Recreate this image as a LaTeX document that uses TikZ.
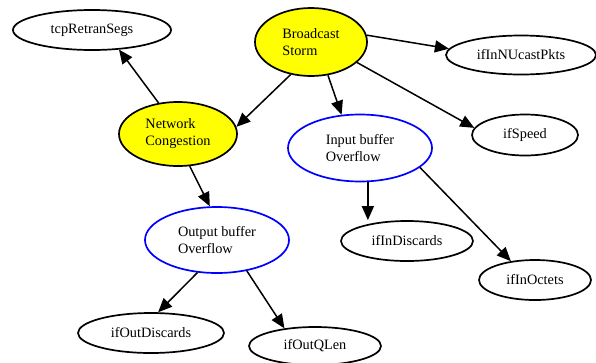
\documentclass[tikz,border=0pt]{standalone}
\usepackage{fontspec}
\setmainfont{Liberation Serif}
\usepackage{xcolor}
\usepackage{tikz}
\usetikzlibrary{shapes.geometric,arrows.meta}
\definecolor{CauseYellow}{RGB}{255,255,0}
\definecolor{BufferBlue}{RGB}{0,0,255}
\tikzset{
    varnode/.style={ellipse, draw=black, line width=1.7pt, inner sep=0pt, align=left,
        font=\fontsize{14.3}{17}\selectfont},
    causenode/.style={varnode, fill=CauseYellow},
    bufnode/.style={varnode, draw=BufferBlue},
    causeline/.style={draw=black, line width=1.5pt, -{Triangle[length=14pt, width=12pt]}}
}

\begin{document}
\begin{tikzpicture}[x=1pt, y=-1pt]
    \useasboundingbox (0,0) rectangle (596,362);
    % Nguyên nhân (nút vàng)
    \node[causenode, minimum width=112pt, minimum height=68pt] (storm) at (311,42) {Broadcast\\Storm};
    \node[causenode, minimum width=118pt, minimum height=64pt] (cong) at (178,134) {Network\\Congestion};
    % Tràn bộ đệm (viền xanh)
    \node[bufnode, minimum width=144pt, minimum height=67pt] (inbuf) at (360,148) {Input buffer\\Overflow};
    \node[bufnode, minimum width=144pt, minimum height=66pt] (outbuf) at (217,240) {Output buffer\\Overflow};
    % Các biến quan sát
    \node[varnode, minimum width=158pt, minimum height=40pt] (retran) at (92,30) {tcpRetranSegs};
    \node[varnode, minimum width=150pt, minimum height=39pt] (nucast) at (521,55) {ifInNUcastPkts};
    \node[varnode, minimum width=106pt, minimum height=41pt] (speed) at (525,135) {ifSpeed};
    \node[varnode, minimum width=132pt, minimum height=40pt] (indisc) at (407,241) {ifInDiscards};
    \node[varnode, minimum width=112pt, minimum height=40pt] (inoct) at (535,280) {ifInOctets};
    \node[varnode, minimum width=146pt, minimum height=40pt] (outdisc) at (151,333) {ifOutDiscards};
    \node[varnode, minimum width=132pt, minimum height=38pt] (outq) at (315,346) {ifOutQLen};

    % Các cạnh nhân quả
    \draw[causeline] (storm.-122) -- (cong.7);
    \draw[causeline] (storm.7) -- (nucast.175);
    \draw[causeline] (storm.-63) -- (inbuf.119);
    \draw[causeline] (storm.-24) -- (speed.172);
    \draw[causeline] (cong.122) -- (retran.-36);
    \draw[causeline] (cong.-70) -- (outbuf.102);
    \draw[causeline] (inbuf.-77) -- (inbuf.-77 |- indisc.north);
    \draw[causeline] (inbuf.-18) -- (inoct.142);
    \draw[causeline] (outbuf.-121) -- (outdisc.71);
    \draw[causeline] (outbuf.-46) -- (outq.150);
\end{tikzpicture}
\end{document}
